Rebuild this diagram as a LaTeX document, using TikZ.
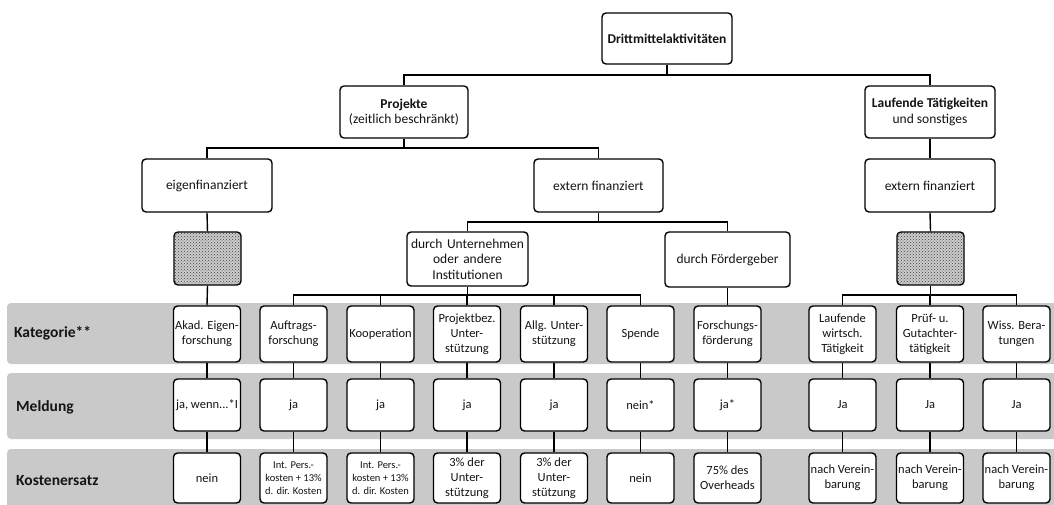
\documentclass[tikz,border=0pt]{standalone}
\usepackage{fontspec}
\setmainfont{Carlito}
\usetikzlibrary{patterns}
\definecolor{band}{RGB}{201,201,201}
\definecolor{ink}{RGB}{20,20,20}
\tikzset{
  box/.style={draw=black, line width=1.4pt, rounded corners=4pt, fill=white, inner sep=0pt,
    align=center, text=ink, font={\fontsize{13.5}{15.5}\selectfont}},
  wide/.style={box, minimum width=130pt, minimum height=53pt},
  hatch/.style={draw=black, line width=1.4pt, rounded corners=4pt, inner sep=0pt,
    minimum width=67pt, minimum height=53pt, fill=gray!40,
    postaction={pattern=crosshatch dots, pattern color=black!75}},
  cat/.style={box, minimum width=67pt, minimum height=56pt, font={\fontsize{12.5}{15}\selectfont}},
  mel/.style={box, minimum width=67pt, minimum height=52pt, font={\fontsize{12.5}{15}\selectfont}},
  kos/.style={box, minimum width=67pt, minimum height=50pt, font={\fontsize{12.5}{15}\selectfont}},
  small/.style={font={\fontsize{10.5}{13}\selectfont}},
  bandbox/.style={fill=band, draw=none, rounded corners=4pt},
  rowlabel/.style={anchor=west, inner sep=0pt, text=ink, font={\fontsize{15.5}{18}\selectfont\bfseries}},
  conn/.style={draw=black, line width=1.4pt}
}
\begin{document}
\begin{tikzpicture}[x=1pt,y=-1pt]
\useasboundingbox (0,0) rectangle (1054,505);
% bands
\path[bandbox] (7,303) rectangle (1060,364);
\path[bandbox] (7,373) rectangle (1060,439);
\path[bandbox] (7,449) rectangle (1060,515);
\node[rowlabel] (lk) at (14,333) {Kategorie**};
\node[rowlabel] (lm) at (16,407) {Meldung};
\node[rowlabel] (lc) at (16,481) {Kostenersatz};
% upper tree
\node[wide, minimum height=51pt] (drm) at (667,38.5) {\textbf{Drittmittelaktivitäten}};
\node[box, minimum width=128pt, minimum height=52pt] (proj) at (404,112) {\textbf{Projekte}\\(zeitlich beschränkt)};
\node[box, minimum width=130pt, minimum height=52pt] (lauf) at (930,112) {\textbf{Laufende Tätigkeiten}\\und sonstiges};
\node[wide] (eig) at (207,185.5) {eigenfinanziert};
\node[wide, minimum width=129pt] (ext) at (598.5,185.5) {extern finanziert};
\node[wide] (ext2) at (930,185.5) {extern finanziert};
\node[hatch] (h1) at (207.5,258.5) {};
\node[hatch] (h2) at (930.5,258.5) {};
\node[box, minimum width=121pt, minimum height=54pt, text width=121pt] (unt) at (467.5,259) {durch Unternehmen\\oder andere\\Institutionen};
\node[box, minimum width=125pt, minimum height=55pt] (foe) at (727.5,259.5) {durch Fördergeber};
% category row
\node[cat] (c1) at (207,334) {Akad. Eigen-\\forschung};
\node[cat] (c2) at (293.5,334) {Auftrags-\\forschung};
\node[cat] (c3) at (380.5,334) {Kooperation};
\node[cat] (c4) at (467,334) {Projektbez.\\Unter-\\stützung};
\node[cat] (c5) at (554,334) {Allg. Unter-\\stützung};
\node[cat] (c6) at (640.5,334) {Spende};
\node[cat] (c7) at (727.5,334) {Forschungs-\\förderung};
\node[cat] (c8) at (842.5,334) {Laufende\\wirtsch.\\Tätigkeit};
\node[cat] (c9) at (930,334) {Prüf- u.\\Gutachter-\\tätigkeit};
\node[cat] (c10) at (1016.5,334) {Wiss. Bera-\\tungen};
% Meldung row
\node[mel] (m1) at (207,405) {ja, wenn...*I};
\node[mel] (m2) at (293.5,405) {ja};
\node[mel] (m3) at (380.5,405) {ja};
\node[mel] (m4) at (467,405) {ja};
\node[mel] (m5) at (554,405) {ja};
\node[mel] (m6) at (640.5,405) {nein*};
\node[mel] (m7) at (727.5,405) {ja*};
\node[mel] (m8) at (842.5,405) {Ja};
\node[mel] (m9) at (930,405) {Ja};
\node[mel] (m10) at (1016.5,405) {Ja};
% Kosten row
\node[kos] (k1) at (207,478) {nein};
\node[kos, small] (k2) at (293.5,478) {Int. Pers.-\\kosten + 13\%\\d. dir. Kosten};
\node[kos, small] (k3) at (380.5,478) {Int. Pers.-\\kosten + 13\%\\d. dir. Kosten};
\node[kos] (k4) at (467,478) {3\% der\\Unter-\\stützung};
\node[kos] (k5) at (554,478) {3\% der\\Unter-\\stützung};
\node[kos] (k6) at (640.5,478) {nein};
\node[kos] (k7) at (727.5,478) {75\% des\\Overheads};
\node[kos] (k8) at (842.5,478) {nach Verein-\\barung};
\node[kos] (k9) at (930,478) {nach Verein-\\barung};
\node[kos] (k10) at (1016.5,478) {nach Verein-\\barung};
% bus coordinates
\coordinate (b1) at (667,75);
\coordinate (b2) at (404,148);
\coordinate (b3) at (598.5,222);
\coordinate (b4) at (467.5,295);
\coordinate (b5) at (930.5,295);
% connectors
\draw[conn] (drm.south) -- (b1);
\draw[conn] (proj.north) |- (b1) -| (lauf.north);
\draw[conn] (proj.south) -- (b2);
\draw[conn] (eig.north) |- (b2) -| (ext.north);
\draw[conn] (eig.south) -- (h1.north);
\draw[conn] (h1.south) -- (c1.north);
\draw[conn] (ext.south) -- (b3);
\draw[conn] (unt.north) |- (b3) -| (foe.north);
\draw[conn] (unt.south) -- (b4);
\draw[conn] (c2.north) |- (b4) -| (c6.north);
\draw[conn] (c3.north) -- (c3.north |- b4);
\draw[conn] (c4.north) -- (c4.north |- b4);
\draw[conn] (c5.north) -- (c5.north |- b4);
\draw[conn] (foe.south) -- (c7.north);
\draw[conn] (lauf.south) -- (ext2.north);
\draw[conn] (ext2.south) -- (h2.north);
\draw[conn] (h2.south) -- (b5);
\draw[conn] (c8.north) |- (b5) -| (c10.north);
\draw[conn] (c9.north) -- (c9.north |- b5);
\foreach \i in {1,...,10}{
  \draw[conn] (c\i.south) -- (m\i.north);
  \draw[conn] (m\i.south) -- (k\i.north);
}
\end{tikzpicture}
\end{document}
